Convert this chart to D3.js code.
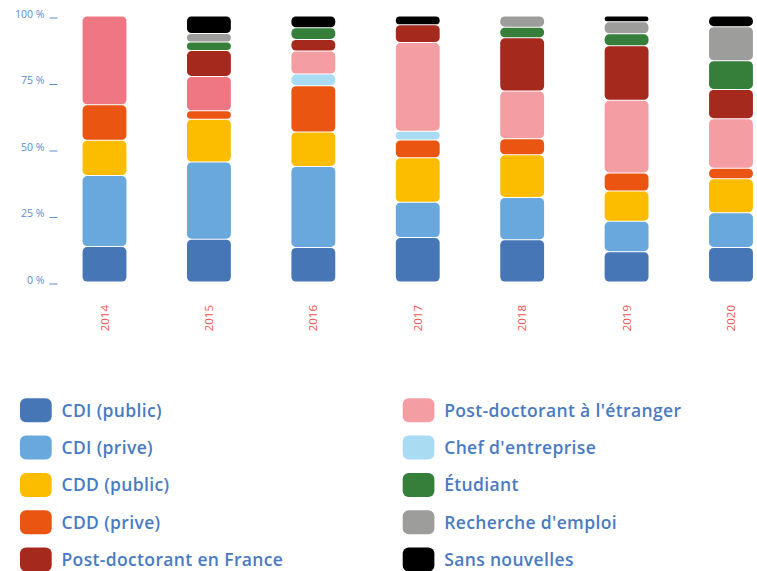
<!DOCTYPE html>
<html>
<head>
<meta charset="utf-8">
<script src="https://cdn.jsdelivr.net/npm/d3@7/dist/d3.min.js"></script>
<style>
  html, body { margin: 0; padding: 0; background: #fff; }
  svg { display: block; }
</style>
</head>
<body>
<svg id="chart" width="757" height="571"></svg>
<script>
// Situation des docteurs par année de soutenance (en %)
const years = ["2014", "2015", "2016", "2017", "2018", "2019", "2020"];

const categories = [
  "CDI (public)",
  "CDI (prive)",
  "CDD (public)",
  "CDD (prive)",
  "Post-doctorant en France",
  "Post-doctorant à l'étranger",
  "Chef d'entreprise",
  "Étudiant",
  "Recherche d'emploi",
  "Sans nouvelles"
];

// Order in which the categories are piled up, bottom to top
const stackOrder = [
  "CDI (public)",
  "CDI (prive)",
  "CDD (public)",
  "CDD (prive)",
  "Chef d'entreprise",
  "Post-doctorant à l'étranger",
  "Post-doctorant en France",
  "Étudiant",
  "Recherche d'emploi",
  "Sans nouvelles"
];

// One value per year (2014 → 2020), percentages
const cdiPublic        = [13.3, 16.1, 13.0, 16.7, 15.9, 11.4, 13.0];
const cdiPrive         = [26.7, 29.0, 30.4, 13.3, 15.9, 11.4, 13.0];
const cddPublic        = [13.3, 16.1, 13.0, 16.7, 16.0, 11.4, 12.8];
const cddPrive         = [13.3,  3.2, 17.4,  6.7,  6.1,  6.8,  4.0];
const postdocFrance    = [ 0.0,  9.7,  4.35, 6.7, 20.0, 20.5, 11.0];
const postdocEtranger  = [33.4, 12.9,  8.7, 33.3, 17.9, 27.3, 18.6];
const chefEntreprise   = [ 0.0,  0.0,  4.35, 3.3,  0.0,  0.0,  0.0];
const etudiant         = [ 0.0,  3.2,  4.4,  0.0,  4.0,  4.5, 10.8];
const rechercheEmploi  = [ 0.0,  3.2,  0.0,  0.0,  4.2,  4.5, 12.8];
const sansNouvelles    = [ 0.0,  6.6,  4.4,  3.3,  0.0,  2.2,  4.0];

const seriesValues = [
  cdiPublic, cdiPrive, cddPublic, cddPrive, postdocFrance,
  postdocEtranger, chefEntreprise, etudiant, rechercheEmploi, sansNouvelles
];

const yTicks = [0, 25, 50, 75, 100];

// Styling
const colors = [
  "#4676b6", "#68a8dc", "#fcbd00", "#ea5511", "#a6291d",
  "#f49ea3", "#a9dbf3", "#367f3b", "#9d9d9c", "#000000"
];
const colorOf = c => colors[categories.indexOf(c)];
const olderPostdocColor = "#ef7683"; // post-doc abroad in the first two cohorts
const olderYears = ["2014", "2015"];
const FONT = "'Open Sans', 'Noto Sans', sans-serif";

const svg = d3.select("#chart");

const rows = years.map((yr, i) => {
  const r = { year: yr };
  categories.forEach((c, k) => { r[c] = seriesValues[k][i]; });
  return r;
});

const stacked = d3.stack().keys(stackOrder)(rows);

const x = d3.scaleBand()
  .domain(years)
  .range([52.3, 783.2])
  .paddingInner(0.58)
  .paddingOuter(0.29);

const y = d3.scaleLinear().domain([0, 100]).range([282, 16]);

// Bars
const layer = svg.append("g").selectAll("g")
  .data(stacked)
  .join("g");

layer.selectAll("rect")
  .data(s => s.map(d => ({ d, key: s.key })).filter(o => o.d[1] - o.d[0] > 0))
  .join("rect")
  .attr("x", o => x(o.d.data.year))
  .attr("width", x.bandwidth())
  .attr("y", o => y(o.d[1]) + 0.5)
  .attr("height", o => Math.max(0, y(o.d[0]) - y(o.d[1]) - 1))
  .attr("rx", o => Math.min(4.5, (y(o.d[0]) - y(o.d[1]) - 1) / 2))
  .attr("fill", o => (o.key === "Post-doctorant à l'étranger" && olderYears.includes(o.d.data.year))
    ? olderPostdocColor : colorOf(o.key));

// Y axis
const yAxis = d3.axisLeft(y)
  .tickValues(yTicks)
  .tickFormat(d => d + " %")
  .tickSize(8)
  .tickPadding(5);

const ya = svg.append("g")
  .attr("transform", "translate(57.5,0)")
  .call(yAxis);
ya.select(".domain").remove();
ya.selectAll(".tick line")
  .attr("stroke", "#5b8bd3")
  .attr("stroke-width", 1)
  .attr("transform", "translate(0,1.5)");
ya.selectAll(".tick text")
  .attr("fill", "#5b8bd3")
  .attr("font-family", FONT)
  .attr("font-size", 10.5)
  .attr("dy", "0.1em");

// Year labels
svg.append("g").selectAll("text")
  .data(years)
  .join("text")
  .attr("transform", d => `translate(${x(d) + x.bandwidth() / 2},305) rotate(-90)`)
  .attr("text-anchor", "end")
  .attr("dy", "0.35em")
  .attr("fill", "#f0534e")
  .attr("font-family", FONT)
  .attr("font-size", 11.5)
  .text(d => d);

// Legend
const legend = svg.append("g");
const legendItems = legend.selectAll("g")
  .data(categories)
  .join("g")
  .attr("transform", (d, i) => {
    const col = Math.floor(i / 5), row = i % 5;
    return `translate(${col === 0 ? 20 : 402.7},${398.3 + row * 37.3})`;
  });

legendItems.append("rect")
  .attr("width", 31.7)
  .attr("height", 24)
  .attr("rx", 6)
  .attr("fill", d => colorOf(d));

legendItems.append("text")
  .attr("x", 41.5)
  .attr("y", 12)
  .attr("dy", "0.36em")
  .attr("fill", "#4a7bc2")
  .attr("font-family", FONT)
  .attr("font-weight", 600)
  .attr("font-size", 17.5)
  .attr("letter-spacing", 0.35)
  .text(d => d);
</script>
</body>
</html>
